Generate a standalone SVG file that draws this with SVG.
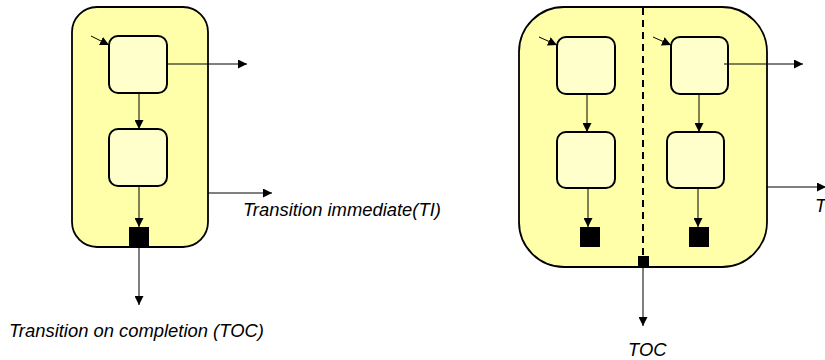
<svg xmlns="http://www.w3.org/2000/svg" width="825" height="360" viewBox="0 0 825 360">
  <defs>
    <marker id="arrow" viewBox="0 0 10 10" refX="10" refY="5" markerWidth="9" markerHeight="9" markerUnits="userSpaceOnUse" orient="auto">
      <path d="M0,0 L10,5 L0,10 Z" fill="#000"/>
    </marker>
    <style>
      .container { fill: #FFFFAA; stroke: #000; stroke-width: 1.8; }
      .state { fill: #FFFFCC; stroke: #000; stroke-width: 2; }
      .final { fill: #000; }
      .edge { stroke: #000; stroke-width: 1; fill: none; marker-end: url(#arrow); }
      .divider { stroke: #000; stroke-width: 2; stroke-dasharray: 7 5; fill: none; }
      .label { font-family: "Liberation Sans", Arial, sans-serif; font-style: italic; font-size: 18.4px; fill: #000; }
    </style>
  </defs>

  <!-- Sequential composite state -->
  <g id="seq-composite">
    <rect class="container" x="72" y="7" width="136" height="240" rx="25" ry="25"/>
  </g>
  <g id="seq-state1">
    <rect class="state" x="109" y="36" width="58" height="57" rx="9" ry="9"/>
  </g>
  <g id="seq-state2">
    <rect class="state" x="109" y="129" width="58" height="57" rx="9" ry="9"/>
  </g>
  <g id="seq-final">
    <rect class="final" x="129" y="227" width="20" height="20"/>
  </g>

  <!-- Parallel composite state -->
  <g id="par-composite">
    <rect class="container" x="519" y="7" width="248" height="260" rx="45" ry="45"/>
    <line class="divider" x1="643" y1="8" x2="643" y2="256"/>
  </g>
  <g id="par-a-state1">
    <rect class="state" x="557" y="37" width="58" height="57" rx="9" ry="9"/>
  </g>
  <g id="par-a-state2">
    <rect class="state" x="557" y="132" width="58" height="56" rx="9" ry="9"/>
  </g>
  <g id="par-a-final">
    <rect class="final" x="580" y="227" width="20" height="20"/>
  </g>
  <g id="par-b-state1">
    <rect class="state" x="671" y="37" width="57" height="57" rx="9" ry="9"/>
  </g>
  <g id="par-b-state2">
    <rect class="state" x="667" y="132" width="57" height="56" rx="9" ry="9"/>
  </g>
  <g id="par-b-final">
    <rect class="final" x="689" y="227" width="20" height="20"/>
  </g>
  <g id="par-join">
    <rect class="final" x="638" y="256" width="11" height="11"/>
  </g>

  <!-- Transitions -->
  <g id="connectors">
    <!-- sequential -->
    <line class="edge" x1="91" y1="36" x2="109" y2="45"/>
    <line class="edge" x1="139" y1="93" x2="139" y2="129"/>
    <line class="edge" x1="139" y1="186" x2="139" y2="227"/>
    <line class="edge" x1="167" y1="64" x2="247" y2="64"/>
    <line class="edge" x1="208" y1="193" x2="272" y2="193"/>
    <line class="edge" x1="139" y1="247" x2="139" y2="305"/>

    <!-- parallel -->
    <line class="edge" x1="539" y1="37" x2="557" y2="45"/>
    <line class="edge" x1="587" y1="94" x2="587" y2="132"/>
    <line class="edge" x1="588" y1="188" x2="588" y2="227"/>
    <line class="edge" x1="653" y1="37" x2="671" y2="45"/>
    <line class="edge" x1="699" y1="94" x2="699" y2="132"/>
    <line class="edge" x1="698" y1="188" x2="698" y2="227"/>
    <line class="edge" x1="724" y1="64" x2="803" y2="64"/>
    <line class="edge" x1="767" y1="187" x2="826" y2="187"/>
    <line class="edge" x1="643" y1="267" x2="643" y2="326"/>
  </g>

  <!-- Labels -->
  <g id="labels">
    <text class="label" x="243" y="216">Transition immediate(TI)</text>
    <text class="label" x="9" y="337">Transition on completion (TOC)</text>
    <text class="label" x="628" y="356">TOC</text>
    <text class="label" x="815" y="212">T</text>
  </g>
</svg>
